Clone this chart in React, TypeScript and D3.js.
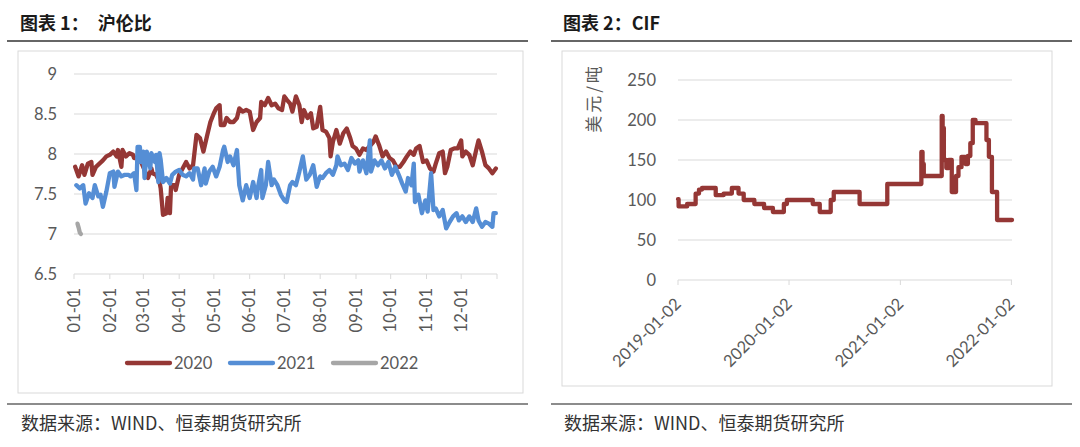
import { useEffect, useRef } from "react";
import * as d3 from "d3";

// MARK: data — 沪伦比 (month-day on a 2020 calendar)
const monthTicks = ["01-01", "02-01", "03-01", "04-01", "05-01", "06-01", "07-01", "08-01", "09-01", "10-01", "11-01", "12-01", "12-31"];
const ratioTicks = [6.5, 7, 7.5, 8, 8.5, 9];

const ratio2020: [string, number][] = [
  ["01-02", 7.84], ["01-05", 7.72], ["01-08", 7.86], ["01-10", 7.74], ["01-13", 7.88], ["01-16", 7.9],
  ["01-17", 7.74], ["01-20", 7.84], ["01-23", 7.88], ["01-26", 7.92], ["01-29", 7.97], ["02-01", 7.99],
  ["02-04", 8.03], ["02-07", 7.97], ["02-08", 8.05], ["02-11", 7.84], ["02-12", 8.05], ["02-15", 7.97],
  ["02-18", 8.01], ["02-21", 7.99], ["02-22", 7.95], ["02-24", 7.95], ["02-28", 7.9], ["03-02", 7.8],
  ["03-05", 7.7], ["03-08", 7.82], ["03-09", 7.76], ["03-12", 7.74], ["03-15", 7.65], ["03-16", 7.57],
  ["03-18", 7.24], ["03-21", 7.26], ["03-22", 7.45], ["03-24", 7.26], ["03-25", 7.61], ["03-28", 7.61],
  ["03-29", 7.55], ["04-01", 7.74], ["04-04", 7.82], ["04-07", 7.9], ["04-10", 7.82], ["04-13", 7.86],
  ["04-16", 8.24], ["04-19", 8.2], ["04-22", 8.03], ["04-25", 8.22], ["04-28", 8.4], ["05-01", 8.51],
  ["05-03", 8.57], ["05-06", 8.61], ["05-07", 8.36], ["05-10", 8.36], ["05-12", 8.45], ["05-15", 8.4],
  ["05-18", 8.4], ["05-21", 8.45], ["05-23", 8.57], ["05-26", 8.53], ["05-29", 8.55], ["06-01", 8.53],
  ["06-04", 8.3], ["06-07", 8.4], ["06-10", 8.45], ["06-11", 8.65], ["06-14", 8.61], ["06-17", 8.7],
  ["06-20", 8.61], ["06-23", 8.63], ["06-26", 8.57], ["06-29", 8.55], ["07-01", 8.72], ["07-03", 8.68],
  ["07-06", 8.63], ["07-08", 8.53], ["07-11", 8.72], ["07-14", 8.61], ["07-16", 8.4], ["07-18", 8.55],
  ["07-21", 8.45], ["07-24", 8.51], ["07-26", 8.32], ["07-29", 8.34], ["08-01", 8.59], ["08-03", 8.3],
  ["08-06", 8.28], ["08-09", 8.2], ["08-10", 7.97], ["08-12", 8.15], ["08-15", 8.3], ["08-18", 8.13],
  ["08-21", 8.26], ["08-24", 8.32], ["08-27", 8.2], ["08-29", 8.1], ["09-01", 8.07], ["09-04", 7.99],
  ["09-07", 8.07], ["09-10", 8.05], ["09-13", 8.1], ["09-16", 8.15], ["09-18", 8.22], ["09-21", 8.11],
  ["09-24", 7.97], ["09-27", 8.03], ["09-30", 7.95], ["10-03", 7.92], ["10-06", 7.84], ["10-09", 7.84],
  ["10-12", 7.9], ["10-15", 7.97], ["10-18", 8.03], ["10-21", 7.99], ["10-23", 8.07], ["10-26", 8.1],
  ["10-29", 7.9], ["11-01", 7.92], ["11-04", 7.82], ["11-07", 7.78], ["11-09", 7.88], ["11-12", 8.01],
  ["11-15", 8.03], ["11-17", 7.76], ["11-19", 7.84], ["11-22", 8.05], ["11-25", 8.07], ["11-28", 8.07],
  ["12-01", 8.17], ["12-02", 7.97], ["12-05", 8.03], ["12-08", 7.99], ["12-11", 7.86], ["12-14", 8.05],
  ["12-16", 8.17], ["12-19", 8.03], ["12-22", 7.86], ["12-25", 7.82], ["12-28", 7.76], ["12-31", 7.82],
];

const ratio2021: [string, number][] = [
  ["01-03", 7.61], ["01-06", 7.57], ["01-09", 7.61], ["01-11", 7.38], ["01-14", 7.51], ["01-17", 7.45],
  ["01-19", 7.61], ["01-22", 7.47], ["01-24", 7.49], ["01-26", 7.34], ["01-29", 7.53], ["02-01", 7.76],
  ["02-04", 7.78], ["02-05", 7.59], ["02-08", 7.78], ["02-11", 7.72], ["02-14", 7.74], ["02-17", 7.74],
  ["02-19", 7.72], ["02-22", 7.76], ["02-24", 7.55], ["02-25", 8.09], ["02-27", 8.09], ["02-28", 7.9],
  ["03-01", 8.03], ["03-02", 7.7], ["03-04", 8.03], ["03-07", 7.82], ["03-08", 8.01], ["03-11", 7.9],
  ["03-12", 7.99], ["03-14", 7.65], ["03-15", 8.01], ["03-16", 7.93], ["03-18", 7.65], ["03-21", 7.7],
  ["03-24", 7.63], ["03-26", 7.74], ["03-29", 7.78], ["04-01", 7.8], ["04-04", 7.74], ["04-07", 7.72],
  ["04-10", 7.76], ["04-13", 7.68], ["04-14", 7.82], ["04-17", 7.82], ["04-20", 7.61], ["04-23", 7.82],
  ["04-24", 7.63], ["04-27", 7.78], ["04-30", 7.84], ["05-03", 7.72], ["05-06", 7.84], ["05-09", 8.05],
  ["05-10", 8.09], ["05-13", 7.9], ["05-15", 7.97], ["05-18", 7.86], ["05-21", 8.05], ["05-23", 7.61],
  ["05-26", 7.42], ["05-29", 7.61], ["06-01", 7.45], ["06-04", 7.65], ["06-07", 7.45], ["06-08", 7.57],
  ["06-11", 7.8], ["06-12", 7.45], ["06-15", 7.61], ["06-17", 7.9], ["06-20", 7.61], ["06-22", 7.68],
  ["06-25", 7.61], ["06-28", 7.49], ["07-01", 7.42], ["07-03", 7.4], ["07-06", 7.61], ["07-08", 7.65],
  ["07-11", 7.61], ["07-14", 7.78], ["07-17", 7.97], ["07-20", 7.68], ["07-23", 7.74], ["07-26", 7.86],
  ["07-29", 7.59], ["08-01", 7.72], ["08-03", 7.7], ["08-06", 7.76], ["08-09", 7.8], ["08-12", 7.74],
  ["08-15", 7.86], ["08-16", 7.97], ["08-19", 7.86], ["08-22", 7.88], ["08-25", 7.8], ["08-28", 7.95],
  ["08-31", 7.88], ["09-03", 7.92], ["09-04", 7.78], ["09-07", 7.92], ["09-10", 7.76], ["09-13", 8.17],
  ["09-14", 7.78], ["09-17", 7.92], ["09-20", 7.86], ["09-23", 7.92], ["09-26", 7.82], ["09-29", 7.9],
  ["10-02", 7.74], ["10-05", 7.84], ["10-08", 7.74], ["10-11", 7.63], ["10-14", 7.53], ["10-16", 7.7],
  ["10-19", 7.61], ["10-21", 7.88], ["10-22", 7.4], ["10-25", 7.49], ["10-28", 7.26], ["10-31", 7.42],
  ["11-02", 7.28], ["11-05", 7.76], ["11-07", 7.3], ["11-09", 7.32], ["11-12", 7.22], ["11-15", 7.3],
  ["11-18", 7.07], ["11-21", 7.15], ["11-24", 7.22], ["11-27", 7.26], ["11-29", 7.17], ["12-02", 7.22],
  ["12-05", 7.15], ["12-08", 7.22], ["12-11", 7.15], ["12-14", 7.32], ["12-16", 7.17], ["12-19", 7.09],
  ["12-22", 7.15], ["12-25", 7.13], ["12-28", 7.09], ["12-29", 7.26], ["12-31", 7.26],
];

const ratio2022: [string, number][] = [
  ["01-04", 7.13], ["01-05", 7.08], ["01-06", 7.02], ["01-07", 7.0],
];

// MARK: data — CIF (美元/吨), step series
const cifTicks = [0, 50, 100, 150, 200, 250];
const cifDateTicks = ["2019-01-02", "2020-01-02", "2021-01-02", "2022-01-02"];
const cifSeries: [string, number][] = [
  ["2019-01-02", 101], ["2019-01-04", 92], ["2019-02-01", 95], ["2019-03-01", 108], ["2019-03-12", 113],
  ["2019-03-22", 115], ["2019-05-06", 106], ["2019-06-01", 108], ["2019-06-28", 115], ["2019-07-20", 108],
  ["2019-08-06", 100], ["2019-09-10", 95], ["2019-10-12", 90], ["2019-11-10", 85], ["2019-12-16", 95],
  ["2019-12-26", 100], ["2020-03-20", 95], ["2020-04-12", 85], ["2020-05-18", 100], ["2020-05-28", 110],
  ["2020-08-21", 95], ["2020-11-20", 120], ["2021-03-12", 160], ["2021-03-16", 145], ["2021-03-20", 130],
  ["2021-05-18", 205], ["2021-05-21", 190], ["2021-05-25", 150], ["2021-06-02", 140], ["2021-06-10", 150],
  ["2021-06-20", 110], ["2021-07-04", 130], ["2021-07-12", 141], ["2021-07-22", 154], ["2021-08-04", 145],
  ["2021-08-12", 155], ["2021-08-20", 171], ["2021-08-28", 200], ["2021-09-06", 196], ["2021-10-12", 175],
  ["2021-10-20", 154], ["2021-10-30", 110], ["2021-11-16", 75], ["2022-01-04", 75],
];

const RED = "#953735";
const BLUE = "#558ED5";
const GRAY = "#A6A6A6";
const GRID = "#D9D9D9";
const LABEL = "#595959";
const CJK = "'Noto Sans CJK SC', sans-serif";
const NUM = "Lato, 'Noto Sans', sans-serif";

const parseDay = d3.timeParse("%Y-%m-%d");

export default function App() {
  const ref = useRef<SVGSVGElement | null>(null);

  useEffect(() => {
    if (!ref.current) return;
    const svg = d3.select(ref.current);
    svg.selectAll("*").remove();

    svg.append("rect").attr("width", 1080).attr("height", 447).attr("fill", "#fff");

    // MARK: panel chrome (titles, rules, frames, sources)
    const panels = [
      { title: "图表 1：\u3000沪伦比", x0: 7, x1: 528, tx: 20, frame: [18, 51, 505, 342] },
      { title: "图表 2：CIF", x0: 551, x1: 1072, tx: 563, frame: [562, 51, 490, 335] },
    ];
    panels.forEach((p) => {
      svg.append("text").attr("x", p.tx).attr("y", 30).attr("font-family", CJK).attr("font-size", 18)
        .attr("font-weight", 700).attr("fill", "#1a1a1a").text(p.title);
      svg.append("line").attr("x1", p.x0).attr("x2", p.x1).attr("y1", 41).attr("y2", 41)
        .attr("stroke", "#333").attr("stroke-width", 1.5);
      svg.append("rect").attr("x", p.frame[0]).attr("y", p.frame[1]).attr("width", p.frame[2])
        .attr("height", p.frame[3]).attr("fill", "none").attr("stroke", GRID).attr("stroke-width", 1);
      svg.append("line").attr("x1", p.x0).attr("x2", p.x1).attr("y1", 404).attr("y2", 404)
        .attr("stroke", "#666").attr("stroke-width", 1.5);
      svg.append("text").attr("x", p.tx + 1).attr("y", 430).attr("font-family", CJK).attr("font-size", 18)
        .attr("fill", "#333").text("数据来源：WIND、恒泰期货研究所");
    });

    // MARK: 沪伦比 chart
    const md = (s: string) => parseDay("2020-" + s) as Date;
    const xL = d3.scaleTime().domain([md("01-01"), parseDay("2021-01-01") as Date]).range([74, 497]);
    const yL = d3.scaleLinear().domain([6.5, 9]).range([274, 74]);
    const gL = svg.append("g");

    ratioTicks.forEach((t) => {
      gL.append("line").attr("x1", 74).attr("x2", 497).attr("y1", yL(t)).attr("y2", yL(t))
        .attr("stroke", GRID).attr("stroke-width", 1);
      gL.append("text").attr("x", 57).attr("y", yL(t)).attr("dy", "0.35em").attr("text-anchor", "end")
        .attr("font-family", NUM).attr("font-size", 16.5).attr("fill", LABEL).text(String(t));
    });
    const tickDates = monthTicks.slice(0, 12).map(md).concat([parseDay("2021-01-01") as Date]);
    tickDates.forEach((d, i) => {
      const x = xL(d);
      gL.append("line").attr("x1", x).attr("x2", x).attr("y1", 274).attr("y2", 279)
        .attr("stroke", GRID).attr("stroke-width", 1);
      if (i < 12) {
        gL.append("text").attr("transform", `translate(${x},288) rotate(-90)`).attr("dy", "0.35em")
          .attr("text-anchor", "end").attr("font-family", NUM).attr("font-size", 16.5).attr("fill", LABEL)
          .text(monthTicks[i]);
      }
    });

    const series = [
      { name: "2020", color: RED, data: ratio2020 },
      { name: "2021", color: BLUE, data: ratio2021 },
      { name: "2022", color: GRAY, data: ratio2022 },
    ];
    const lineL = d3.line<[string, number]>().x((d) => xL(md(d[0]))).y((d) => yL(d[1]));
    series.forEach((s) => {
      gL.append("path").attr("d", lineL(s.data) || "").attr("fill", "none").attr("stroke", s.color)
        .attr("stroke-width", 4.3).attr("stroke-linejoin", "round").attr("stroke-linecap", "round");
    });

    // legend
    series.forEach((s, i) => {
      const lx = 127 + i * 103;
      gL.append("line").attr("x1", lx).attr("x2", lx + 43).attr("y1", 363).attr("y2", 363)
        .attr("stroke", s.color).attr("stroke-width", 4.3).attr("stroke-linecap", "round");
      gL.append("text").attr("x", lx + 47).attr("y", 363).attr("dy", "0.35em").attr("font-family", NUM)
        .attr("font-size", 16.5).attr("fill", LABEL).text(s.name);
    });

    // MARK: CIF chart
    const xR = d3.scaleTime().domain([parseDay("2019-01-02") as Date, parseDay("2022-01-04") as Date]).range([678, 1012]);
    const yR = d3.scaleLinear().domain([0, 250]).range([280, 80]);
    const gR = svg.append("g");

    cifTicks.forEach((t) => {
      gR.append("line").attr("x1", 678).attr("x2", 1012).attr("y1", yR(t)).attr("y2", yR(t))
        .attr("stroke", GRID).attr("stroke-width", 1);
      gR.append("text").attr("x", 656).attr("y", yR(t)).attr("dy", "0.35em").attr("text-anchor", "end")
        .attr("font-family", NUM).attr("font-size", 16.5).attr("fill", LABEL).text(String(t));
    });
    cifDateTicks.forEach((s) => {
      const x = xR(parseDay(s) as Date);
      gR.append("line").attr("x1", x).attr("x2", x).attr("y1", 280).attr("y2", 285)
        .attr("stroke", GRID).attr("stroke-width", 1);
      gR.append("text").attr("transform", `translate(${x},301) rotate(-45)`).attr("dy", "0.35em")
        .attr("text-anchor", "end").attr("font-family", NUM).attr("font-size", 16.5).attr("fill", LABEL)
        .text(s);
    });
    gR.append("text").attr("transform", "translate(594,98) rotate(-90)").attr("dy", "0.35em")
      .attr("text-anchor", "middle").attr("font-family", CJK).attr("font-size", 17)
      .attr("letter-spacing", 3).attr("fill", LABEL).text("美元/吨");

    const lineR = d3.line<[string, number]>()
      .x((d) => xR(parseDay(d[0]) as Date))
      .y((d) => yR(d[1]))
      .curve(d3.curveStepAfter);
    gR.append("path").attr("d", lineR(cifSeries) || "").attr("fill", "none").attr("stroke", RED)
      .attr("stroke-width", 4.3).attr("stroke-linejoin", "round").attr("stroke-linecap", "round");
  }, []);

  return (
    <svg ref={ref} width={1080} height={447} style={{ position: "absolute", left: 0, top: 0, display: "block" }} />
  );
}
